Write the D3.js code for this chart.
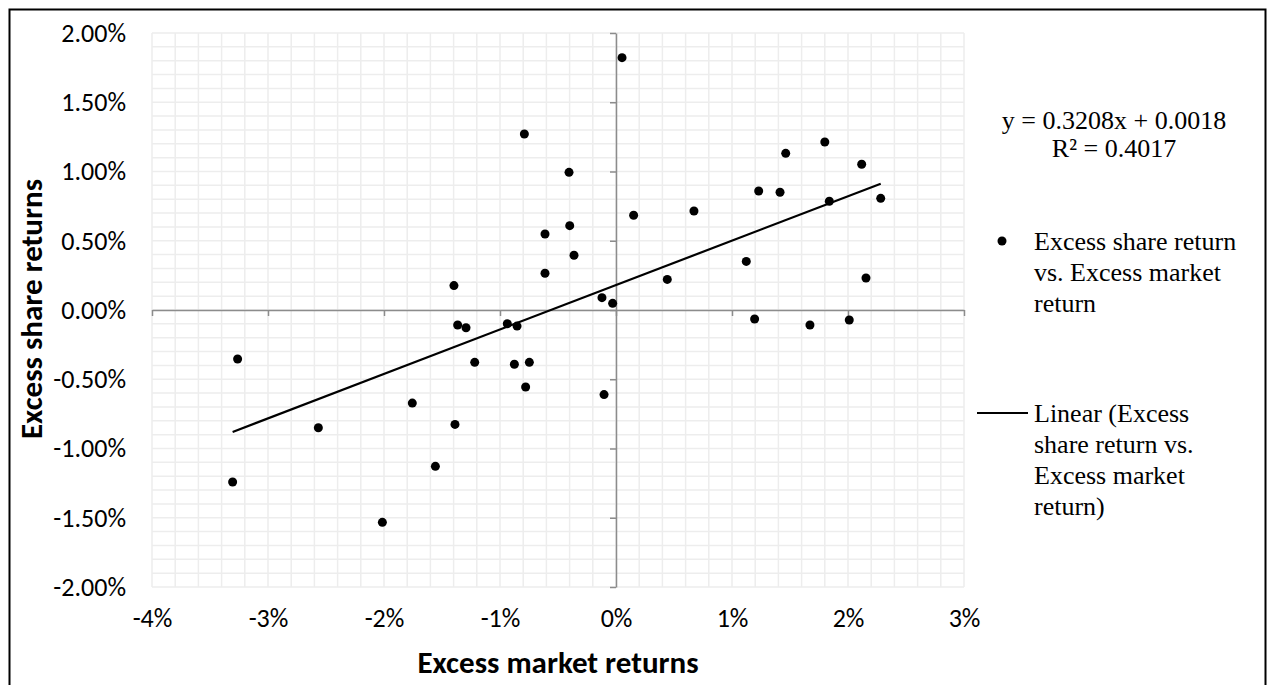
<!DOCTYPE html>
<html>
<head>
<meta charset="utf-8">
<script src="https://cdn.jsdelivr.net/npm/d3@7"></script>
<style>
  html, body { margin: 0; padding: 0; background: #fff; }
  svg { display: block; }
  .tick text { font-family: Carlito, Calibri, Lato, sans-serif; font-size: 26px; fill: #000; }
</style>
</head>
<body>
<svg id="chart" width="1270" height="685"></svg>
<script>
// Excess market return (x) and excess share return (y), as decimals
const marketReturns = [
  -0.03305, -0.03262, -0.02566, -0.02014, -0.01756, -0.01557, -0.01397, -0.01388,
  -0.01365, -0.01293, -0.01218, -0.00937, -0.00876, -0.00853, -0.00790, -0.00779,
  -0.00747, -0.00612, -0.00612, -0.00405, -0.00399, -0.00362, -0.00121, -0.00103,
  -0.00029, 0.00052, 0.00152, 0.00442, 0.00672, 0.01123, 0.01195, 0.01230,
  0.01414, 0.01463, 0.01672, 0.01800, 0.01839, 0.02011, 0.02118, 0.02155, 0.02282
];
const shareReturns = [
  -0.01242, -0.00354, -0.00850, -0.01533, -0.00672, -0.01129, 0.00176, -0.00826,
  -0.00108, -0.00128, -0.00378, -0.00099, -0.00392, -0.00116, 0.01271, -0.00556,
  -0.00378, 0.00549, 0.00265, 0.00994, 0.00609, 0.00395, 0.00089, -0.00611,
  0.00048, 0.01822, 0.00684, 0.00221, 0.00715, 0.00351, -0.00065, 0.00859,
  0.00850, 0.01131, -0.00108, 0.01213, 0.00785, -0.00072, 0.01052, 0.00231, 0.00806
];

// Least-squares fit shown on the chart
const slope = 0.3208;
const intercept = 0.0018;
const rSquared = 0.4017;

// Axis ticks
const xTicks = [-0.04, -0.03, -0.02, -0.01, 0, 0.01, 0.02, 0.03];
const yTicks = [-0.02, -0.015, -0.01, -0.005, 0, 0.005, 0.01, 0.015, 0.02];

const xTitle = "Excess market returns";
const yTitle = "Excess share returns";

const svg = d3.select("#chart");

// Outer chart frame
svg.append("rect")
  .attr("x", 9.5).attr("y", 9.5)
  .attr("width", 1256).attr("height", 700)
  .attr("fill", "none").attr("stroke", "#000").attr("stroke-width", 2);

const x = d3.scaleLinear().domain([-0.04, 0.03]).range([152, 964]);
const y = d3.scaleLinear().domain([-0.02, 0.02]).range([587, 33]);

// Light grid: every 0.2% horizontally, every 0.1% vertically
const grid = svg.append("g").attr("stroke", "#ededed").attr("stroke-width", 1.5);
d3.range(-0.04, 0.03 + 1e-9, 0.002).forEach(v => {
  grid.append("line").attr("x1", x(v)).attr("x2", x(v)).attr("y1", y(0.02)).attr("y2", y(-0.02));
});
d3.range(-0.02, 0.02 + 1e-9, 0.001).forEach(v => {
  grid.append("line").attr("x1", x(-0.04)).attr("x2", x(0.03)).attr("y1", y(v)).attr("y2", y(v));
});

// X axis runs through y = 0, ticks hanging below
const xAxisLine = svg.append("g")
  .attr("transform", `translate(0,${y(0)})`)
  .call(d3.axisBottom(x).tickValues(xTicks).tickSize(6).tickSizeOuter(0).tickFormat(() => ""));
xAxisLine.select(".domain").attr("stroke", "#8c8c8c").attr("stroke-width", 1.5);
xAxisLine.selectAll(".tick line").attr("stroke", "#8c8c8c").attr("stroke-width", 1.5);

// Y axis runs through x = 0, ticks to the left
const yAxisLine = svg.append("g")
  .attr("transform", `translate(${x(0)},0)`)
  .call(d3.axisLeft(y).tickValues(yTicks).tickSize(6).tickSizeOuter(0).tickFormat(() => ""));
yAxisLine.select(".domain").attr("stroke", "#8c8c8c").attr("stroke-width", 1.5);
yAxisLine.selectAll(".tick line").attr("stroke", "#8c8c8c").attr("stroke-width", 1.5);

// Tick labels sit at the plot edges (low position)
const xLabels = svg.append("g")
  .attr("transform", `translate(0,${y(-0.02)})`)
  .call(d3.axisBottom(x).tickValues(xTicks).tickSize(0).tickPadding(22).tickFormat(d3.format(".0%")));
xLabels.select(".domain").remove();
xLabels.selectAll(".tick text").text(d => d3.format(".0%")(d).replace("−", "-"));

const yLabels = svg.append("g")
  .attr("transform", `translate(${x(-0.04)},0)`)
  .call(d3.axisLeft(y).tickValues(yTicks).tickSize(0).tickPadding(26).tickFormat(d3.format(".2%")));
yLabels.select(".domain").remove();
yLabels.selectAll(".tick text").text(d => d3.format(".2%")(d).replace("−", "-"));

// Trendline across the range of the data
const xr = d3.extent(marketReturns);
svg.append("line")
  .attr("x1", x(xr[0])).attr("y1", y(slope * xr[0] + intercept))
  .attr("x2", x(xr[1])).attr("y2", y(slope * xr[1] + intercept))
  .attr("stroke", "#000").attr("stroke-width", 2.2);

// Scatter points
svg.append("g").selectAll("circle")
  .data(marketReturns.map((m, i) => [m, shareReturns[i]]))
  .join("circle")
  .attr("cx", d => x(d[0])).attr("cy", d => y(d[1]))
  .attr("r", 4.5).attr("fill", "#000");

// Axis titles
svg.append("text")
  .attr("x", 558).attr("y", 673)
  .attr("text-anchor", "middle")
  .attr("font-family", "Carlito, Calibri, Lato, sans-serif")
  .attr("font-weight", "bold").attr("font-size", 31)
  .text(xTitle);

svg.append("text")
  .attr("transform", "translate(42,309) rotate(-90)")
  .attr("text-anchor", "middle")
  .attr("font-family", "Carlito, Calibri, Lato, sans-serif")
  .attr("font-weight", "bold").attr("font-size", 31)
  .text(yTitle);

// Regression equation
const serif = "'Liberation Serif', 'Times New Roman', serif";
const eq = svg.append("text")
  .attr("font-family", serif).attr("font-size", 26).attr("text-anchor", "middle");
eq.append("tspan").attr("x", 1114).attr("y", 129)
  .text(`y = ${slope.toFixed(4)}x + ${intercept.toFixed(4)}`);
eq.append("tspan").attr("x", 1114).attr("y", 157)
  .text(`R² = ${rSquared.toFixed(4)}`);

// Legend
const legend = svg.append("g").attr("font-family", serif).attr("font-size", 26);
legend.append("circle").attr("cx", 1002).attr("cy", 241).attr("r", 4.5).attr("fill", "#000");
const l1 = legend.append("text");
["Excess share return", "vs. Excess market", "return"].forEach((t, i) => {
  l1.append("tspan").attr("x", 1034).attr("y", 250 + i * 31).text(t);
});
legend.append("line").attr("x1", 977).attr("x2", 1028).attr("y1", 413).attr("y2", 413)
  .attr("stroke", "#000").attr("stroke-width", 2.2);
const l2 = legend.append("text");
["Linear (Excess", "share return vs.", "Excess market", "return)"].forEach((t, i) => {
  l2.append("tspan").attr("x", 1034).attr("y", 422 + i * 31).text(t);
});
</script>
</body>
</html>
